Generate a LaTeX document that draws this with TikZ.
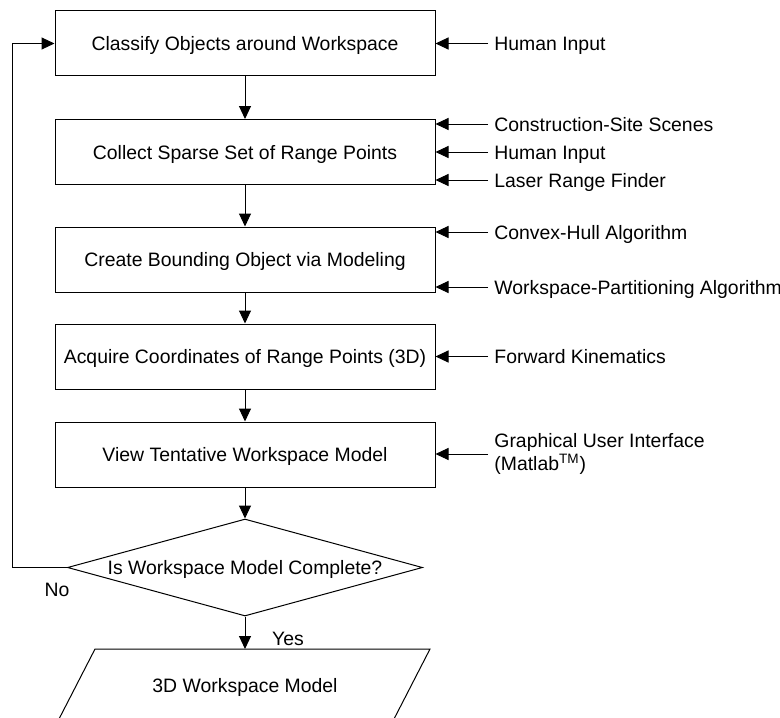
\documentclass[tikz,border=0pt]{standalone}
\usepackage{fontspec}
\setmainfont{Liberation Sans}
\usetikzlibrary{arrows.meta, shapes.geometric, positioning}
\tikzset{>={Triangle[length=6.5pt,width=6pt]}}
\tikzset{
	caps/.style={text height=7pt, text depth=0pt},
	procbox/.style={draw, line width=0.5pt, minimum width=190pt, minimum height=32.5pt, inner sep=0pt, caps},
	decision/.style={draw, diamond, line width=0.5pt, aspect=3.66, minimum width=177.5pt, minimum height=48.5pt, inner sep=0pt, caps},
	inlabel/.style={anchor=west, inner sep=3pt},
	flow/.style={->, line width=0.5pt},
}

\begin{document}
\begin{tikzpicture}[x=0.5pt, y=-0.5pt, font=\fontsize{9.7pt}{11.5pt}\selectfont]
		\useasboundingbox (0,0) rectangle (780,717);
		\node [procbox] (classify) at (245,43.5) {Classify Objects around Workspace};
		\node [procbox] (collect) at (245,152) {Collect Sparse Set of Range Points};
		\node [procbox] (bound) at (245,259.5) {Create Bounding Object via Modeling};
		\node [procbox] (acquire) at (245,356.5) {Acquire Coordinates of Range Points (3D)};
		\node [procbox] (view) at (245,454.5) {View Tentative Workspace Model};
		\node [decision] (decide) at (245,567.5) {Is Workspace Model Complete?};
		\draw [line width=0.5pt] (95,649) -- (430,649) -- (394,719) -- (59,719) -- cycle;
		\node [caps] (model) at (245,685) {3D Workspace Model};
		\coordinate (modeltop) at (245,649);
		\node [inlabel, caps] (human1) at (488,43.5) {Human Input};
		\node [inlabel, caps] (scenes) at (488,124) {Construction-Site Scenes};
		\node [inlabel, caps] (human2) at (488,152) {Human Input};
		\node [inlabel, caps] (laser) at (488,180) {Laser Range Finder};
		\node [inlabel, caps] (convex) at (488,232) {Convex-Hull Algorithm};
		\node [inlabel, caps] (partition) at (488,287) {Workspace-Partitioning Algorithm};
		\node [inlabel, caps] (kinematics) at (488,356.5) {Forward Kinematics};
		\node [inlabel, align=left] (gui) at (488,454) {Graphical User Interface\\(Matlab\textsuperscript{TM})};
		\node [caps] (no) at (57,589) {No};
		\node [caps] (yes) at (288,638) {Yes};
		\draw [flow] (classify) -- (collect);
		\draw [flow] (collect) -- (bound);
		\draw [flow] (bound) -- (acquire);
		\draw [flow] (acquire) -- (view);
		\draw [flow] (view) -- (decide);
		\draw [flow] (decide) -- (modeltop);
		\draw [flow] (decide.west) -- ++(-55,0) |- (classify.west);
		\draw [flow] (human1.west) -- (human1.west -| classify.east);
		\draw [flow] (scenes.west) -- (scenes.west -| collect.east);
		\draw [flow] (human2.west) -- (human2.west -| collect.east);
		\draw [flow] (laser.west) -- (laser.west -| collect.east);
		\draw [flow] (convex.west) -- (convex.west -| bound.east);
		\draw [flow] (partition.west) -- (partition.west -| bound.east);
		\draw [flow] (kinematics.west) -- (kinematics.west -| acquire.east);
		\draw [flow] (gui.west) -- (gui.west -| view.east);
\end{tikzpicture}
\end{document}
